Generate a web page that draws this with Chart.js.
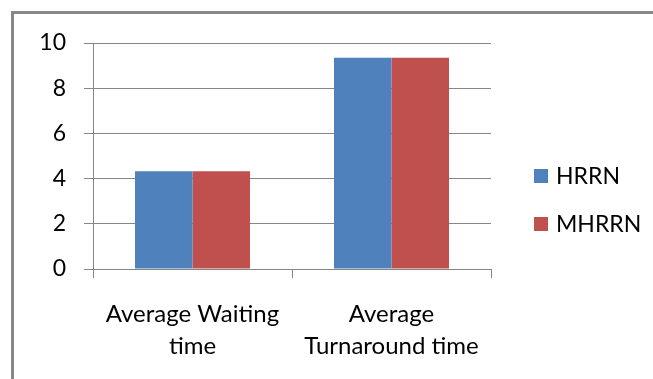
<!DOCTYPE html>
<html>
<head>
<meta charset="utf-8">
<script src="https://cdn.jsdelivr.net/npm/chart.js@4"></script>
<style>
  body { margin: 0; background: #fff; }
  #wrap { position: relative; width: 653px; height: 379px; }
  #frame {
    position: absolute; left: 11px; top: 11px; right: 0; bottom: 0;
    border-left: 3px solid #888; border-top: 3px solid #888;
    pointer-events: none;
  }
  canvas { position: absolute; left: 0; top: 0; }
</style>
</head>
<body>
<div id="wrap">
  <canvas id="chart" width="653" height="379"></canvas>
  <div id="frame"></div>
</div>
<script>
const categories = [["Average Waiting", "time"], ["Average", "Turnaround time"]];
const hrrn = [4.33, 9.35];
const mhrrn = [4.33, 9.35];
const yTicks = [0, 2, 4, 6, 8, 10];

const gridColor = "#868686";
const fontFamily = "Lato, 'Liberation Sans', sans-serif";

// legend drawn by hand to sit where the original one is
const sideLegend = {
  id: "sideLegend",
  afterDraw(chart) {
    const ctx = chart.ctx;
    ctx.save();
    ctx.font = "23px " + fontFamily;
    ctx.textBaseline = "middle";
    chart.data.datasets.forEach((ds, i) => {
      const y = 176 + i * 48;
      ctx.fillStyle = ds.backgroundColor;
      ctx.fillRect(534, y - 7, 14, 14);
      ctx.fillStyle = "#000";
      ctx.fillText(ds.label, 556, y + 1);
    });
    ctx.restore();
  }
};

const ctx = document.getElementById("chart").getContext("2d");
new Chart(ctx, {
  type: "bar",
  data: {
    labels: categories,
    datasets: [
      { label: "HRRN", data: hrrn, backgroundColor: "#4F81BD" },
      { label: "MHRRN", data: mhrrn, backgroundColor: "#C0504D" }
    ]
  },
  options: {
    responsive: false,
    animation: false,
    categoryPercentage: 0.578,
    barPercentage: 1,
    layout: { padding: { left: 0, top: 43, right: 162, bottom: 0 } },
    plugins: { legend: { display: false }, tooltip: { enabled: false } },
    scales: {
      x: {
        grid: { offset: true, drawOnChartArea: false, drawTicks: true, tickLength: 9, color: gridColor },
        border: { display: true, color: gridColor },
        ticks: {
          color: "#000",
          padding: 20,
          maxRotation: 0,
          font: { family: fontFamily, size: 24, lineHeight: 1.33 }
        },
        afterFit(scale) { scale.height = 110; }
      },
      y: {
        min: 0,
        max: 10,
        afterBuildTicks(scale) { scale.ticks = yTicks.map(v => ({ value: v })); },
        grid: { color: gridColor, tickLength: 9 },
        border: { display: true, color: gridColor },
        ticks: {
          color: "#000",
          padding: 18,
          font: { family: fontFamily, size: 23 }
        },
        afterFit(scale) { scale.width = 93; }
      }
    }
  },
  plugins: [sideLegend]
});
</script>
</body>
</html>
